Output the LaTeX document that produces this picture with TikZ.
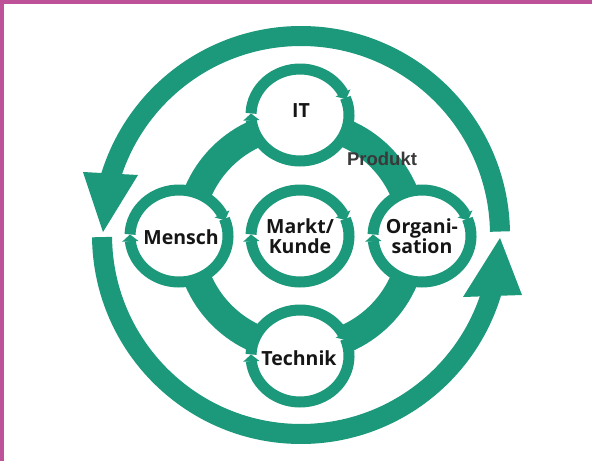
\documentclass[tikz,border=0pt]{standalone}
\usepackage{fontspec}
\setmainfont{Open Sans}
\newfontfamily\prodfont{Liberation Sans}
\usetikzlibrary{arrows.meta,bending,calc}
\definecolor{tealA}{RGB}{28,152,122}
\definecolor{frameC}{RGB}{190,82,152}
\definecolor{txt}{RGB}{22,22,22}
\begin{document}
\begin{tikzpicture}[x=1pt,y=-1pt,
  loopline/.style={tealA, line width=20pt},
  band/.style={tealA, line width=28pt},
  ring/.style={tealA, line width=11pt, -{Triangle[width=16pt,length=7pt]}},
  lbl/.style={font=\bfseries\fontsize{19.5}{20}\selectfont, text=txt, inner sep=0pt, align=center},
  plbl/.style={font=\prodfont\bfseries\fontsize{18.5}{20}\selectfont, text=txt!85, inner sep=0pt}]
\useasboundingbox (0,0) rectangle (592,461);
\fill[white] (0,0) rectangle (592,461);
\fill[frameC] (0,0) rectangle (4,461);
\fill[frameC] (0,0) rectangle (592,4);
% outer loop
\coordinate (O) at (301,235);
\draw[loopline] ($(O)+(359:199)$) arc[start angle=359, end angle=196, radius=199];
\fill[tealA] (83,172) -- (138,175) -- (103,232) -- cycle;
\draw[loopline] ($(O)+(179.4:199)$) arc[start angle=179.4, end angle=15, radius=199];
\fill[tealA] (463,297) -- (522,295) -- (500,238) -- cycle;
% inner band
\coordinate (C) at (301,236);
\draw[band] (C) circle[radius=112];
% small circles
\foreach \n/\x/\y in {cIT/300/115, cMe/179/236, cMa/300/236, cOr/422/236, cTe/300/356}{
  \coordinate (\n) at (\x,\y);
  \fill[white] (\n) ellipse[x radius=49, y radius=46];
  \draw[ring] ($(\n)+(182:49 and 46)$) arc[start angle=182, end angle=340, x radius=49, y radius=46];
  \draw[ring] ($(\n)+(338:49 and 46)$) arc[start angle=338, end angle=542, x radius=49, y radius=46];
}
\node[lbl] (IT) at (301,111) {IT};
\node[lbl] (Mensch) at (181,237) {Mensch};
\node[lbl] (Markt) at (300,236) {Markt/\\Kunde};
\node[lbl] (Org) at (422,236) {Organi-\\sation};
\node[lbl] (Technik) at (299,358) {Technik};
\node[plbl] (Produkt) at (382,159) {Produkt};
\end{tikzpicture}
\end{document}
